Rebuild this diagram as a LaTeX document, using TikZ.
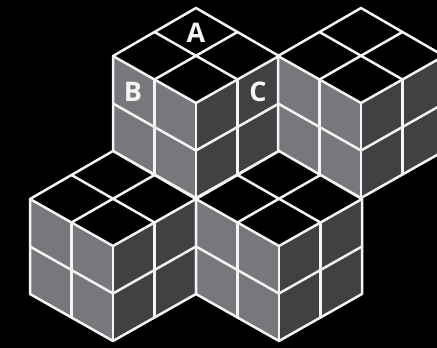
\documentclass[tikz,border=0pt]{standalone}
\usepackage{fontspec}
\setmainfont{Open Sans}
\definecolor{facelight}{HTML}{77787B}
\definecolor{facedark}{HTML}{414042}
\definecolor{edgewhite}{HTML}{F4F4F4}
\tikzset{
  edge/.style={draw=edgewhite,line width=2.5pt,line join=round,line cap=round},
  letter/.style={text=edgewhite,font=\bfseries\fontsize{27}{27}\selectfont,inner sep=0pt},
  isocube/.pic={
    \path[fill=black] (0,0) -- (83,48) -- (0,95) -- (-83,48) -- cycle;
    \path[fill=facelight] (-83,48) -- (0,95) -- (0,190) -- (-83,143) -- cycle;
    \path[fill=facedark] (83,48) -- (0,95) -- (0,190) -- (83,143) -- cycle;
    \path[edge] (0,0) -- (83,48) -- (83,143) -- (0,190) -- (-83,143) -- (-83,48) -- cycle;
    \path[edge] (-83,48) -- (0,95) -- (83,48);
    \path[edge] (0,95) -- (0,190);
    \path[edge] (-41.5,24) -- (41.5,71.5);
    \path[edge] (41.5,24) -- (-41.5,71.5);
    \path[edge] (-41.5,71.5) -- (-41.5,166.5);
    \path[edge] (41.5,71.5) -- (41.5,166.5);
    \path[edge] (-83,95.5) -- (0,142.5) -- (83,95.5);
  }
}
\begin{document}
\begin{tikzpicture}[x=1pt,y=-1pt]
  \useasboundingbox[fill=black] (0,0) rectangle (437,348);
  \begin{scope}
    \clip (0,0) rectangle (437,348);
    \pic at (196,8) {isocube};
    \pic at (361,8) {isocube};
    \pic at (113,151) {isocube};
    \pic at (279,151) {isocube};
  \end{scope}
  \node[letter] (labelA) at (196,33) {A};
  \node[letter] (labelB) at (133,91.5) {B};
  \node[letter] (labelC) at (258,91.5) {C};
\end{tikzpicture}
\end{document}
